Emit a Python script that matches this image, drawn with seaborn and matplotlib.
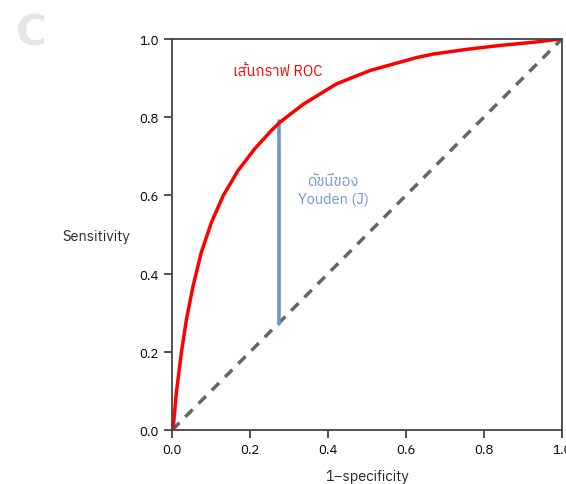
import numpy as np
import pandas as pd
import seaborn as sns
import matplotlib.pyplot as plt
from matplotlib import font_manager as fm

# ROC curve
fpr = [0.0, 0.003, 0.011, 0.024, 0.037, 0.054, 0.075, 0.101, 0.131, 0.169,
       0.212, 0.255, 0.277, 0.295, 0.337, 0.422, 0.508, 0.627, 0.670, 0.756,
       0.841, 0.926, 1.0]
tpr = [0.0, 0.007, 0.096, 0.199, 0.284, 0.369, 0.454, 0.531, 0.599, 0.663,
       0.719, 0.766, 0.787, 0.801, 0.833, 0.885, 0.919, 0.952, 0.961, 0.973,
       0.983, 0.991, 1.0]
chance = [0.0, 1.0]
youden_x = [0.274, 0.274]
youden_y = [0.27, 0.79]
ticks = [0.0, 0.2, 0.4, 0.6, 0.8, 1.0]

sns.set_theme(style="ticks")
thai = [f.name for f in fm.fontManager.ttflist if 'Thai' in f.name or 'Tahoma' in f.name]
fams = thai[:1] + ['DejaVu Sans']
plt.rcParams['font.family'] = fams

fig = plt.figure(figsize=(5.66, 4.85), dpi=100)
ax = fig.add_axes([0.304, 0.111, 0.689, 0.807])

roc = pd.DataFrame({'x': fpr, 'y': tpr})
diag = pd.DataFrame({'x': chance, 'y': chance})
yj = pd.DataFrame({'x': youden_x, 'y': youden_y})

sns.lineplot(data=diag, x='x', y='y', ax=ax, color='#666666', lw=2.5,
             linestyle=(0, (3, 2.4)), estimator=None)
sns.lineplot(data=yj, x='x', y='y', ax=ax, color='#7295cb', lw=2.6,
             estimator=None, sort=False)
sns.lineplot(data=roc, x='x', y='y', ax=ax, color='#ff0000', lw=2.5,
             estimator=None, sort=False)

ax.set_xlim(0, 1)
ax.set_ylim(0, 1)
ax.set_xticks(ticks)
ax.set_yticks(ticks)
ax.set_xticklabels([f'{t:.1f}' for t in ticks])
ax.set_yticklabels([f'{t:.1f}' for t in ticks])
for s in ax.spines.values():
    s.set_color('#444444')
    s.set_linewidth(1.3)
ax.tick_params(colors='#444444', labelcolor='black', labelsize=9.5, length=6, width=1.3)

ax.set_xlabel('1\u2212specificity', fontsize=10.5, labelpad=9)
ax.set_ylabel('Sensitivity', fontsize=10.5, rotation=0, labelpad=0, va='center', ha='center')
ax.yaxis.set_label_coords(-0.195, 0.497)

ax.text(0.27, 0.918, 'เส้นกราฟ ROC', color='#ff0000', fontsize=10.5, ha='center', va='center')
ax.text(0.413, 0.637, 'ดัชนีของ', color='#7295cb', fontsize=10.5, ha='center', va='center')
ax.text(0.413, 0.592, 'Youden (J)', color='#7295cb', fontsize=10.5, ha='center', va='center')

fig.text(0.055, 0.93, 'C', color='#e6e6e6', fontsize=30, fontweight='bold',
         ha='center', va='center', family='DejaVu Sans')

fig.savefig('out.png', dpi=100)
